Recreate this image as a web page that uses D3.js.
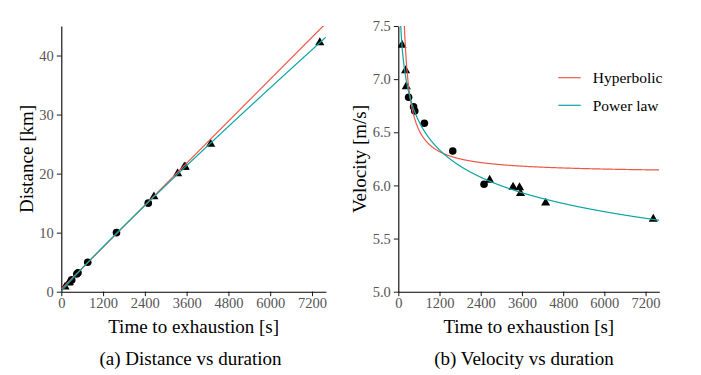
<!DOCTYPE html>
<html>
<head>
<meta charset="utf-8">
<script src="https://cdn.jsdelivr.net/npm/d3@7"></script>
<style>
  body { margin: 0; background: #fff; }
  svg { display: block; }
</style>
</head>
<body>
<svg id="chart" width="701" height="375"></svg>
<script>
// ---------- data ----------
// Triangles (performances), time to exhaustion [s], distance [km], velocity [m/s]
const triTime     = [109, 212, 232, 2660, 3342, 3530, 3560, 4290, 7425];
const triDistance = [0.8, 1.5, 1.609, 16.09, 20.0, 21.1, 21.1, 25.0, 42.195];
const triVelocity = [7.32, 7.08, 6.93, 6.05, 5.985, 5.98, 5.925, 5.835, 5.684];
// Circles
const cirTime     = [300, 445, 480, 759, 1585, 2497];
const cirDistance = [2.0, 3.0, 3.2, 5.0, 10.0, 15.0];
const cirVelocity = [6.83, 6.74, 6.70, 6.585, 6.324, 6.011];

// Model parameters
const hypLeft  = { cs: 5.925, dprime: 430 };    // distance panel, d = cs*t + d'
const hypRight = { cs: 6.113, dprime: 245.6 };  // velocity panel, v = cs + d'/t
const powLaw   = { a: 9.679, b: 0.9402 };       // d = a*t^b, v = a*t^(b-1)

const xTicks = [0, 1200, 2400, 3600, 4800, 6000, 7200];
const yTicksLeft  = [0, 10, 20, 30, 40];
const yTicksRight = [5.0, 5.5, 6.0, 6.5, 7.0, 7.5];
const legendLabels = ["Hyperbolic", "Power law"];
const captions = ["(a) Distance vs duration", "(b) Velocity vs duration"];

const RED = "#f0574a", TEAL = "#0aa5a5";
const FONT = '"Liberation Serif", "DejaVu Serif", serif';

// ---------- drawing ----------
const svg = d3.select("#chart");
const defs = svg.append("defs");
const tSamples = d3.range(20, 7601, 10);

function panel(opts) {
  const { x0, x1, y0, y1, yDomain, yTicks, yFmt, id } = opts;
  const x = d3.scaleLinear().domain([0, 7600]).range([x0, x1]);
  const y = d3.scaleLinear().domain(yDomain).range([y0, y1]);
  defs.append("clipPath").attr("id", id).append("rect")
    .attr("x", x0).attr("y", y1).attr("width", x1 - x0).attr("height", y0 - y1);
  const g = svg.append("g");

  const xAxis = g.append("g").attr("transform", `translate(0,${y0})`)
    .call(d3.axisBottom(x).tickValues(xTicks).tickSize(4.5).tickSizeOuter(0).tickFormat(d3.format("d")));
  const yAxis = g.append("g").attr("transform", `translate(${x0},0)`)
    .call(d3.axisLeft(y).tickValues(yTicks).tickSize(4.5).tickSizeOuter(0).tickFormat(yFmt));
  [xAxis, yAxis].forEach(a => {
    a.attr("font-family", null);
    a.select(".domain").attr("stroke", "#000").attr("stroke-width", 1.1);
    a.selectAll(".tick line").attr("stroke", "#000").attr("stroke-width", 0.9);
    a.selectAll(".tick text").attr("fill", "#555").attr("font-size", 14.5)
      .style("font-family", FONT);
  });
  xAxis.selectAll(".tick text").attr("dy", "0.71em").attr("y", 6.5);
  yAxis.selectAll(".tick text").attr("x", -7.5);

  const plot = g.append("g").attr("clip-path", `url(#${id})`);
  return { x, y, g, plot };
}

function markers(plot, xs, ys, t, vals) {
  plot.selectAll(null).data(d3.range(t.length)).enter().append("path")
    .attr("d", d3.symbol().type(d3.symbolTriangle).size(36))
    .attr("transform", i => `translate(${xs(t[i])},${ys(vals[i])})`)
    .attr("fill", "#000");
}
function dots(plot, xs, ys, t, vals) {
  plot.selectAll(null).data(d3.range(t.length)).enter().append("circle")
    .attr("cx", i => xs(t[i])).attr("cy", i => ys(vals[i])).attr("r", 3.8)
    .attr("fill", "#000");
}

// Left panel: distance
const L = panel({ x0: 61.3, x1: 325.9, y0: 291.7, y1: 26, yDomain: [0, 45],
  yTicks: yTicksLeft, yFmt: d3.format("d"), id: "clipL" });
dots(L.plot, L.x, L.y, cirTime, cirDistance);
markers(L.plot, L.x, L.y, triTime, triDistance);
L.plot.append("path").datum([0, ...tSamples])
  .attr("d", d3.line().x(t => L.x(t)).y(t => L.y((hypLeft.cs * t + hypLeft.dprime) / 1000)))
  .attr("fill", "none").attr("stroke", RED).attr("stroke-width", 1.2);
L.plot.append("path").datum([0, ...tSamples])
  .attr("d", d3.line().x(t => L.x(t)).y(t => L.y(powLaw.a * Math.pow(t, powLaw.b) / 1000)))
  .attr("fill", "none").attr("stroke", TEAL).attr("stroke-width", 1.2);

// Right panel: velocity
const R = panel({ x0: 398.3, x1: 659.3, y0: 291.7, y1: 26, yDomain: [5.0, 7.5],
  yTicks: yTicksRight, yFmt: d3.format(".1f"), id: "clipR" });
dots(R.plot, R.x, R.y, cirTime, cirVelocity);
markers(R.plot, R.x, R.y, triTime, triVelocity);
const tFine = d3.range(40, 7601, 4);
R.plot.append("path").datum(tFine)
  .attr("d", d3.line().x(t => R.x(t)).y(t => R.y(hypRight.cs + hypRight.dprime / t)))
  .attr("fill", "none").attr("stroke", RED).attr("stroke-width", 1.2);
R.plot.append("path").datum(tFine)
  .attr("d", d3.line().x(t => R.x(t)).y(t => R.y(powLaw.a * Math.pow(t, powLaw.b - 1))))
  .attr("fill", "none").attr("stroke", TEAL).attr("stroke-width", 1.2);

// Texts
function label(x, y, txt, size, rotate) {
  const t = svg.append("text").attr("text-anchor", "middle")
    .attr("font-size", size).style("font-family", FONT).attr("fill", "#000").text(txt);
  if (rotate) t.attr("transform", `translate(${x},${y}) rotate(-90)`);
  else t.attr("x", x).attr("y", y);
  return t;
}
const titleSize = 19;
label(193.6, 333, "Time to exhaustion [s]", titleSize);
label(528.8, 333, "Time to exhaustion [s]", titleSize);
label(33, 159, "Distance [km]", titleSize, true);
label(366, 159, "Velocity [m/s]", titleSize, true);
label(190.5, 364.5, captions[0], titleSize);
label(524, 364.5, captions[1], titleSize);

// Legend
const legColors = [RED, TEAL];
const legY = [77.7, 105.3];
legendLabels.forEach((lab, i) => {
  svg.append("line").attr("x1", 558.3).attr("x2", 580.7).attr("y1", legY[i]).attr("y2", legY[i])
    .attr("stroke", legColors[i]).attr("stroke-width", 1.2);
  svg.append("text").attr("x", 592.7).attr("y", legY[i]).attr("dy", "0.35em")
    .attr("font-size", 15.5).style("font-family", FONT).text(lab);
});
</script>
</body>
</html>
